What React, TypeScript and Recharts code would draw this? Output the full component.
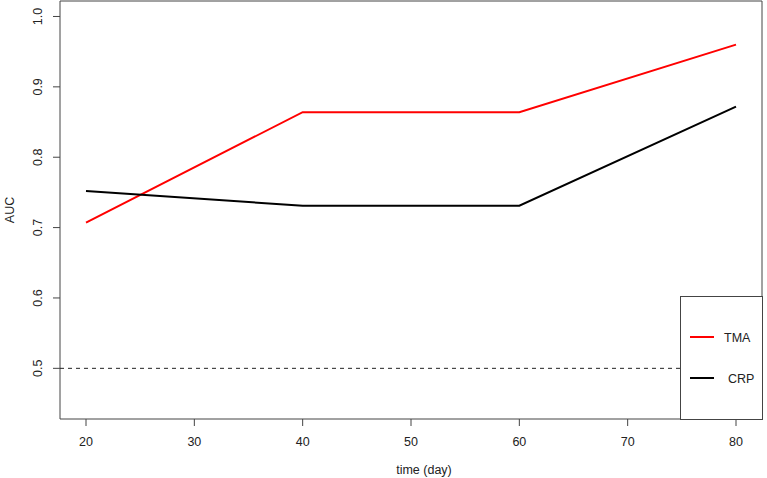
import { Label, Legend, Line, LineChart, ReferenceArea, ReferenceLine, XAxis, YAxis } from "recharts";

const days = [20, 40, 60, 80];
const tma = [0.707, 0.864, 0.864, 0.96];
const crp = [0.752, 0.731, 0.731, 0.872];
const xTicks = [20, 30, 40, 50, 60, 70, 80];
const yTicks = [0.5, 0.6, 0.7, 0.8, 0.9, 1.0];
const seriesNames = ["TMA", "CRP"];
const seriesColors = ["#ff0000", "#000000"];

const data = days.map((day, i) => ({ day, TMA: tma[i], CRP: crp[i] }));

const FONT = "'Liberation Sans', Arial, Helvetica, sans-serif";
const X_DOMAIN: [number, number] = [17.6, 82.4];
const Y_DOMAIN: [number, number] = [0.428, 1.022];

function YTick(props: any) {
  const { x, y, payload } = props;
  return (
    <text
      x={x}
      y={y}
      transform={`rotate(-90, ${x}, ${y})`}
      textAnchor="middle"
      fontSize={12.5}
      fontFamily={FONT}
      fill="#222"
    >
      {payload.value.toFixed(1)}
    </text>
  );
}

function LegendBox() {
  return (
    <svg width={83} height={124} style={{ display: "block" }}>
      <rect x={0.5} y={0.5} width={82} height={123} fill="#fff" stroke="#444" />
      {seriesNames.map((name, i) => (
        <g key={name}>
          <line x1={10} x2={34} y1={41 + i * 41} y2={41 + i * 41} stroke={seriesColors[i]} strokeWidth={2} />
          <text x={44 + i * 4} y={45.5 + i * 41} fontSize={12.5} fontFamily={FONT} fill="#222">
            {name}
          </text>
        </g>
      ))}
    </svg>
  );
}

export default function App() {
  return (
    <div style={{ position: "absolute", left: 0, top: 0, width: 767, height: 478, background: "#fff" }}>
      <LineChart width={767} height={478} data={data} margin={{ top: 1, right: 5, left: 0, bottom: 0 }}>
        <XAxis
          dataKey="day"
          type="number"
          domain={X_DOMAIN}
          ticks={xTicks}
          allowDataOverflow
          axisLine={false}
          tickSize={7}
          tickMargin={11}
          height={59}
          stroke="#444"
          tick={{ fontSize: 12.5, fontFamily: FONT, fill: "#222" }}
        >
          <Label
            content={() => (
              <text x={424} y={474} textAnchor="middle" fontSize={12.5} fontFamily={FONT} fill="#222">
                time (day)
              </text>
            )}
          />
        </XAxis>
        <YAxis
          type="number"
          domain={Y_DOMAIN}
          ticks={yTicks}
          allowDataOverflow
          axisLine={false}
          tickSize={7}
          tickMargin={11}
          width={60}
          stroke="#444"
          tick={<YTick />}
        >
          <Label
            content={() => (
              <text
                x={14}
                y={210}
                transform="rotate(-90, 14, 210)"
                textAnchor="middle"
                fontSize={12.5}
                fontFamily={FONT}
                fill="#222"
              >
                AUC
              </text>
            )}
          />
        </YAxis>
        <ReferenceLine y={0.5} stroke="#222" strokeDasharray="4 4" strokeWidth={1} />
        <Line dataKey="TMA" stroke={seriesColors[0]} strokeWidth={2} dot={false} isAnimationActive={false} />
        <Line dataKey="CRP" stroke={seriesColors[1]} strokeWidth={2} dot={false} isAnimationActive={false} />
        <ReferenceArea
          x1={X_DOMAIN[0]}
          x2={X_DOMAIN[1]}
          y1={Y_DOMAIN[0]}
          y2={Y_DOMAIN[1]}
          fill="none"
          stroke="#444"
          strokeWidth={1}
        />
        <Legend
          layout="vertical"
          align="center"
          verticalAlign="middle"
          content={() => <LegendBox />}
          wrapperStyle={{ position: "absolute", left: 680, top: 296, width: 83, height: 124 }}
        />
      </LineChart>
    </div>
  );
}
